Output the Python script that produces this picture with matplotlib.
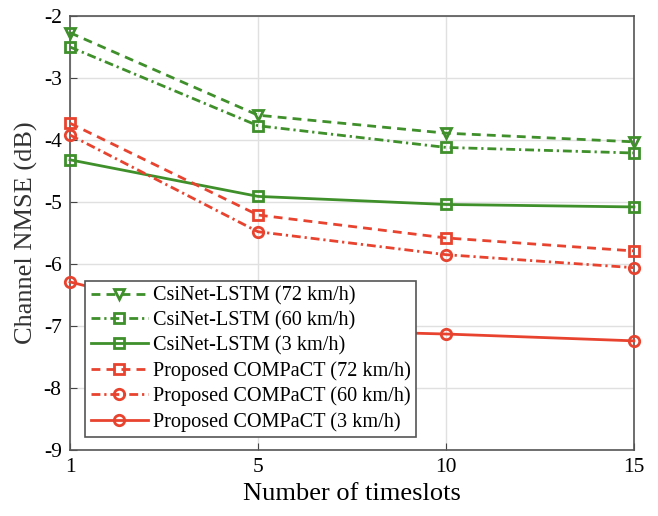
import matplotlib

matplotlib.use("Agg")
import matplotlib.pyplot as plt
import numpy as np

plt.rcParams["font.family"] = ["Liberation Serif", "DejaVu Serif"]
plt.rcParams["axes.unicode_minus"] = False

TIMESLOTS = ["1", "5", "10", "15"]

CSINET_72 = [-2.27, -3.60, -3.89, -4.03]
CSINET_60 = [-2.50, -3.77, -4.12, -4.21]
CSINET_3 = [-4.32, -4.91, -5.04, -5.08]
COMPACT_72 = [-3.73, -5.21, -5.58, -5.79]
COMPACT_60 = [-3.92, -5.48, -5.85, -6.06]
COMPACT_3 = [-6.29, -7.05, -7.13, -7.24]

GREEN = "#3f8f2b"
RED = "#e8432f"

series = [
    ("CsiNet-LSTM (72 km/h)", CSINET_72, GREEN, (0, (3.2, 2.2)), "v"),
    ("CsiNet-LSTM (60 km/h)", CSINET_60, GREEN, (0, (3.2, 1.4, 0.8, 1.4)), "s"),
    ("CsiNet-LSTM (3 km/h)", CSINET_3, GREEN, "-", "s"),
    ("Proposed COMPaCT (72 km/h)", COMPACT_72, RED, (0, (3.2, 2.2)), "s"),
    ("Proposed COMPaCT (60 km/h)", COMPACT_60, RED, (0, (3.2, 1.4, 0.8, 1.4)), "o"),
    ("Proposed COMPaCT (3 km/h)", COMPACT_3, RED, "-", "o"),
]

fig = plt.figure(figsize=(6.58, 5.16), dpi=100)
ax = fig.add_axes([0.1064, 0.128, 0.857, 0.841])

x = np.arange(len(TIMESLOTS))
for label, vals, color, ls, marker in series:
    ax.plot(
        x, vals, linestyle=ls, color=color, linewidth=2.0,
        marker=marker, markersize=7.5, markerfacecolor="none",
        markeredgewidth=2.0, label=label, clip_on=False, zorder=3,
    )

ax.set_xlim(0, len(TIMESLOTS) - 1)
ax.set_ylim(-9, -2)
ax.set_xticks(x)
ax.set_xticklabels(TIMESLOTS)
ax.set_yticks(np.arange(-9, -1, 1))
ax.tick_params(direction="in", labelsize=15.5, length=5, color="#444444", pad=6)
ax.grid(True, color="#e0e0e0", linewidth=1.0)
for s in ax.spines.values():
    s.set_color("#555555")
    s.set_linewidth(1.2)

ax.set_xlabel("Number of timeslots", fontsize=19, labelpad=4)
ax.set_ylabel("Channel NMSE (dB)", fontsize=19, color="#333333", labelpad=4)

leg = ax.legend(
    loc="upper left", bbox_to_anchor=(0.027, 0.39), fontsize=14.6,
    frameon=True, fancybox=False, edgecolor="#555555", framealpha=1.0,
    handlelength=2.8, handletextpad=0.25, borderpad=0.28, labelspacing=0.28,
    borderaxespad=0.0,
)
leg.set_zorder(5)
leg.get_frame().set_linewidth(1.2)

fig.savefig("out.png", dpi=100)
